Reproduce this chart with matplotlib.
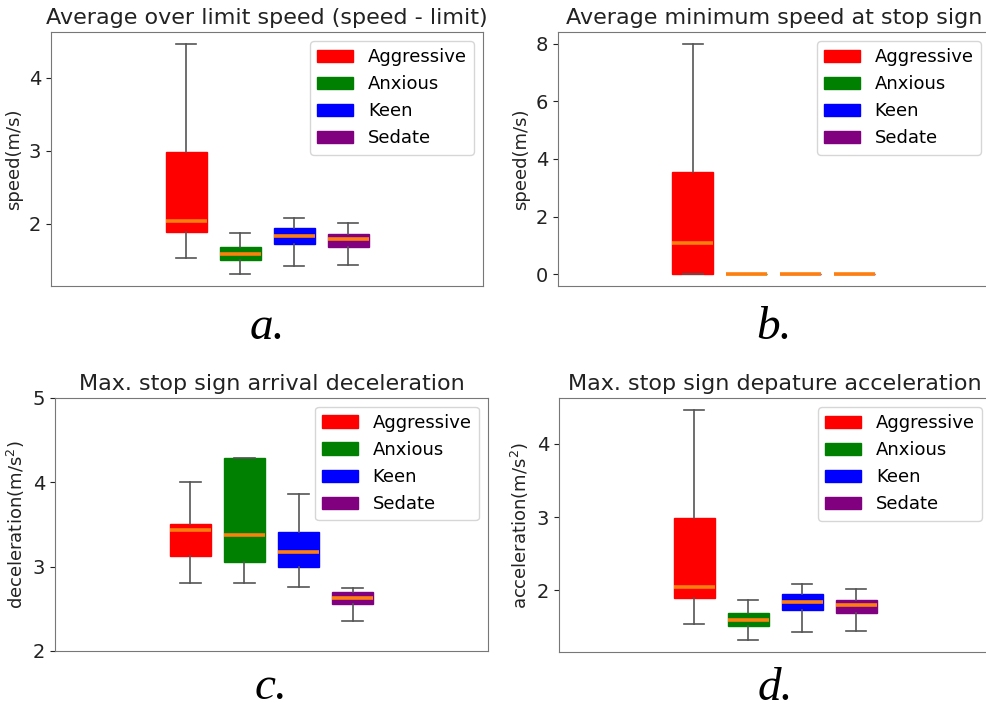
import matplotlib
matplotlib.use("Agg")

import matplotlib.pyplot as plt
from matplotlib.patches import Patch
from matplotlib.ticker import MaxNLocator

# driver styles and their box colours
styles = ["Aggressive", "Anxious", "Keen", "Sedate"]
colors = ["red", "green", "blue", "purple"]

# a. / d. average over limit speed (same numbers in both panels)
over_lo = [1.54, 1.31, 1.43, 1.44]
over_q1 = [1.89, 1.51, 1.73, 1.69]
over_med = [2.04, 1.59, 1.83, 1.79]
over_q3 = [2.99, 1.685, 1.94, 1.86]
over_hi = [4.47, 1.87, 2.08, 2.02]

# b. average minimum speed at stop sign
min_lo = [0.0, 0.0, 0.0, 0.0]
min_q1 = [0.0, 0.0, 0.0, 0.0]
min_med = [1.10, 0.0, 0.0, 0.0]
min_q3 = [3.54, 0.0, 0.0, 0.0]
min_hi = [8.0, 0.0, 0.0, 0.0]

# c. max. stop sign arrival deceleration
dec_lo = [2.80, 2.80, 2.755, 2.36]
dec_q1 = [3.13, 3.05, 3.00, 2.56]
dec_med = [3.43, 3.38, 3.17, 2.63]
dec_q3 = [3.51, 4.29, 3.41, 2.70]
dec_hi = [4.00, 4.29, 3.86, 2.745]

# d. max. stop sign departure acceleration
acc_lo = over_lo
acc_q1 = over_q1
acc_med = over_med
acc_q3 = over_q3
acc_hi = over_hi

FS = 13


def make_stats(lo, q1, med, q3, hi):
    return [dict(whislo=lo[i], q1=q1[i], med=med[i], q3=q3[i], whishi=hi[i],
                 fliers=[], label=styles[i]) for i in range(len(styles))]


def draw_panel(ax, stats, title, ylabel, letter, ylim=None, letter_gap=0.075):
    bp = ax.bxp(stats, positions=range(1, len(stats) + 1), widths=0.76,
                patch_artist=True, showfliers=False,
                medianprops=dict(color="#ff7f0e", linewidth=2.6),
                whiskerprops=dict(color="#555555", linewidth=1.2),
                capprops=dict(color="#555555", linewidth=1.2))
    for patch, c in zip(bp["boxes"], colors):
        patch.set_facecolor(c)
        patch.set_edgecolor(c)
    ax.set_xlim(-1.5, 6.5)
    if ylim is not None:
        ax.set_ylim(*ylim)
    ax.yaxis.set_major_locator(MaxNLocator(nbins=5, integer=True))
    ax.set_xticks([])
    ax.set_title(title, fontsize=16, color="#222222")
    ax.set_ylabel(ylabel, fontsize=FS, color="#222222")
    ax.tick_params(axis="y", labelsize=14, colors="#222222")
    for s in ax.spines.values():
        s.set_color("#777777")
    handles = [Patch(facecolor=c, edgecolor=c) for c in colors]
    ax.legend(handles, styles, loc="upper right", fontsize=FS)
    pos = ax.get_position()
    ax.figure.text((pos.x0 + pos.x1) / 2, pos.y0 - letter_gap, letter,
                   ha="center", va="baseline", fontsize=34,
                   family="Liberation Serif", style="italic")


fig = plt.figure(figsize=(9.87, 7.13), dpi=100)
ax_a = fig.add_axes([0.0517, 0.599, 0.4377, 0.356])
ax_b = fig.add_axes([0.5653, 0.599, 0.4377, 0.356])
ax_c = fig.add_axes([0.0557, 0.087, 0.4387, 0.355])
ax_d = fig.add_axes([0.5664, 0.0856, 0.4377, 0.356])

draw_panel(ax_a, make_stats(over_lo, over_q1, over_med, over_q3, over_hi),
           "Average over limit speed (speed - limit)", "speed(m/s)", "a.")
draw_panel(ax_b, make_stats(min_lo, min_q1, min_med, min_q3, min_hi),
           "Average minimum speed at stop sign", "speed(m/s)", "b.")
draw_panel(ax_c, make_stats(dec_lo, dec_q1, dec_med, dec_q3, dec_hi),
           "Max. stop sign arrival deceleration", "deceleration(m/s$^2$)", "c.",
           ylim=(2, 5), letter_gap=0.068)
draw_panel(ax_d, make_stats(acc_lo, acc_q1, acc_med, acc_q3, acc_hi),
           "Max. stop sign depature acceleration", "acceleration(m/s$^2$)", "d.",
           letter_gap=0.068)

fig.savefig("out.png", dpi=100)
